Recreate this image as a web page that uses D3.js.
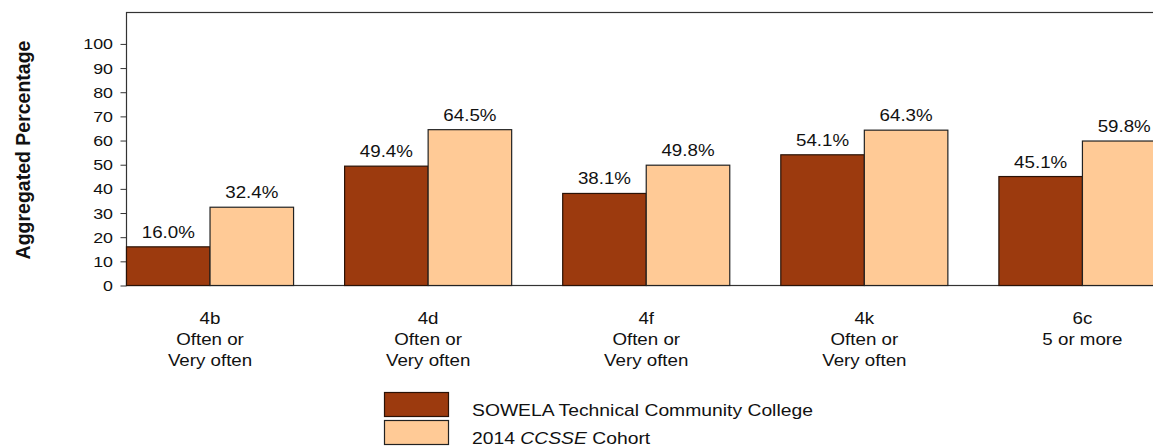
<!DOCTYPE html>
<html>
<head>
<meta charset="utf-8">
<script src="https://cdn.jsdelivr.net/npm/d3@7"></script>
<style>
  html, body { margin: 0; padding: 0; background: #fff; }
  svg { display: block; }
  text { font-family: "Liberation Sans", Arial, sans-serif; fill: #111; }
</style>
</head>
<body>
<svg id="chart" width="1153" height="447"></svg>
<script>
const categories = ["4b", "4d", "4f", "4k", "6c"];
const categoryLines = [
  ["4b", "Often or", "Very often"],
  ["4d", "Often or", "Very often"],
  ["4f", "Often or", "Very often"],
  ["4k", "Often or", "Very often"],
  ["6c", "5 or more"]
];
const seriesNames = ["SOWELA Technical Community College", "2014 CCSSE Cohort"];
const sowelaValues = [16.0, 49.4, 38.1, 54.1, 45.1];
const cohortValues = [32.4, 64.5, 49.8, 64.3, 59.8];
const yTicks = [0, 10, 20, 30, 40, 50, 60, 70, 80, 90, 100];
const colors = ["#9C3A0E", "#FFCA96"];

const svg = d3.select("#chart");
const SX = 1.15; // horizontal text stretch of the reference

const plotLeft = 126.5, plotTop = 12.5, plotBottom = 285.5;
const step = 218.1, padIn = 0.234;
const x = d3.scaleBand().domain(categories)
  .range([plotLeft, plotLeft + step * (categories.length - padIn)])
  .paddingInner(padIn).paddingOuter(0);
const xs = d3.scaleBand().domain([0, 1]).range([0, x.bandwidth()]);
const y = d3.scaleLinear().domain([0, 113]).range([plotBottom, plotTop]);

function stext(g, tx, ty, str, size, anchor, weight) {
  const t = g.append("text")
    .attr("transform", `translate(${tx},${ty}) scale(${SX},1)`)
    .attr("text-anchor", anchor || "middle")
    .style("font-size", size + "px");
  if (weight) t.style("font-weight", weight);
  if (str !== null) t.text(str);
  return t;
}

// plot frame
svg.append("rect")
  .attr("x", plotLeft).attr("y", plotTop)
  .attr("width", 1250 - plotLeft).attr("height", plotBottom - plotTop)
  .attr("fill", "none").attr("stroke", "#333").attr("stroke-width", 1.2);

// y axis ticks
const yAxis = d3.axisLeft(y).tickValues(yTicks).tickSize(6).tickPadding(6).tickFormat(d3.format("d"));
const ga = svg.append("g").attr("transform", `translate(${plotLeft},0)`).call(yAxis);
ga.select(".domain").remove();
ga.selectAll(".tick line").attr("stroke", "#333");
ga.selectAll(".tick text").remove();
yTicks.forEach(v => {
  stext(svg, 113, y(v) + 5.5, String(v), 15.5, "end");
});

// bars
const data = categories.map((c, i) => ({ c, vals: [sowelaValues[i], cohortValues[i]] }));
const groups = svg.append("g").selectAll("g").data(data).join("g")
  .attr("transform", d => `translate(${x(d.c)},0)`);
groups.selectAll("rect").data(d => d.vals.map((v, k) => ({ v, k }))).join("rect")
  .attr("x", d => xs(d.k)).attr("width", xs.bandwidth())
  .attr("y", d => y(d.v)).attr("height", d => y(0) - y(d.v))
  .attr("fill", d => colors[d.k])
  .attr("stroke", d => d.k === 0 ? "#2a1206" : "#222").attr("stroke-width", 1.2);

// value labels
data.forEach(d => {
  d.vals.forEach((v, k) => {
    stext(svg, x(d.c) + xs(k) + xs.bandwidth() / 2, y(v) - 9, v.toFixed(1) + "%", 16.3, "middle");
  });
});

// category labels
categories.forEach((c, i) => {
  const cx = x(c) + x.bandwidth() / 2;
  categoryLines[i].forEach((line, j) => {
    stext(svg, cx, 324 + j * 20.8, line, 16.3, "middle");
  });
});

// y title
svg.append("text")
  .attr("transform", `translate(30,150) scale(1.05,1) rotate(-90)`)
  .attr("text-anchor", "middle")
  .style("font-size", "19.5px").style("font-weight", "bold")
  .text("Aggregated Percentage");

// legend
const lg = svg.append("g");
const swY = [392.5, 420.5];
seriesNames.forEach((name, k) => {
  lg.append("rect").attr("x", 384.5).attr("y", swY[k]).attr("width", 64).attr("height", 24)
    .attr("fill", colors[k]).attr("stroke", k === 0 ? "#2a1206" : "#222").attr("stroke-width", 1.2);
});
stext(lg, 472, 416, "SOWELA Technical Community College", 16.8, "start");
const t2 = stext(lg, 472, 443.5, null, 16.8, "start");
t2.append("tspan").text("2014 ");
t2.append("tspan").style("font-style", "italic").text("CCSSE");
t2.append("tspan").text(" Cohort");
</script>
</body>
</html>
